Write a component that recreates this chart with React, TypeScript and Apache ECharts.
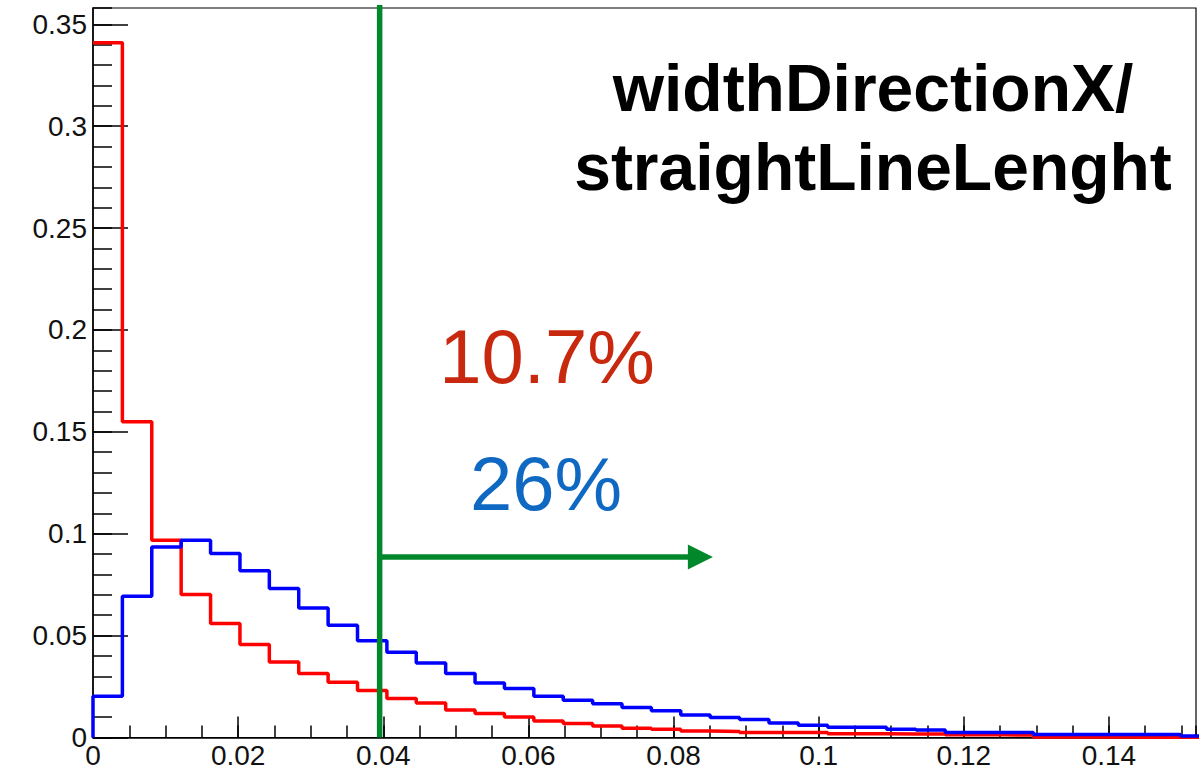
import React, { useEffect, useRef } from 'react';
import * as echarts from 'echarts';

// Histogram definition
const BIN_WIDTH = 0.00405;
const redValues = [
  0.341, 0.155, 0.0968, 0.0702, 0.0559, 0.0456, 0.0371, 0.0314, 0.0271, 0.0231,
  0.0192, 0.0169, 0.0135, 0.0118, 0.0100, 0.0081, 0.0069, 0.0057, 0.0045, 0.0041,
  0.0032, 0.0030, 0.0025, 0.0025, 0.0024, 0.0018, 0.0018, 0.0017, 0.0017, 0.0013,
  0.0013, 0.0012, 0.0003, 0.0002, 0.0002, 0.0001, 0.0001, 0.0001,
];
const blueValues = [
  0.0203, 0.0693, 0.0935, 0.0968, 0.0903, 0.0818, 0.0731, 0.0636, 0.0551, 0.0475,
  0.0418, 0.0365, 0.0314, 0.0268, 0.0240, 0.0203, 0.0183, 0.0166, 0.0147, 0.0131,
  0.0110, 0.0098, 0.0088, 0.0071, 0.0060, 0.0050, 0.0050, 0.0041, 0.0037, 0.0024,
  0.0024, 0.0024, 0.0015, 0.0015, 0.0015, 0.0015, 0.0015, 0.0007,
];
const cutValue = 0.0395;
const cutTop = 0.3595;
const arrowY = 0.0886;
const arrowLineEnd = 0.082;
const arrowHeadX = 0.0837;
const redPercent = '10.7%';
const bluePercent = '26%';
const titleLines = ['widthDirectionX/', 'straightLineLenght'];

const X_MIN = 0;
const X_MAX = 0.152;
const Y_MIN = 0;
const Y_MAX = 0.358;

function histSteps(values: number[], fromZero: boolean) {
  const pts: number[][] = [];
  if (fromZero) pts.push([0, 0]);
  values.forEach((v, i) => pts.push([i * BIN_WIDTH, v]));
  pts.push([values.length * BIN_WIDTH, 0]);
  return pts;
}

const fmt = (v: number) => String(parseFloat(v.toFixed(4)));
const FONT = 'Liberation Sans, Arial, Helvetica, sans-serif';

export default function App() {
  const ref = useRef<HTMLDivElement>(null);
  useEffect(() => {
    document.body.style.margin = '0';
    if (!ref.current) return;
    const chart = echarts.init(ref.current, undefined, { renderer: 'svg' });
    const axisLineStyle = { color: '#000', width: 1.5 };
    chart.setOption({
      animation: false,
      backgroundColor: '#fff',
      grid: {
        left: 93,
        top: 8,
        right: 8,
        bottom: 35.5,
        show: true,
        borderColor: '#000',
        borderWidth: 1.2,
        containLabel: false,
      },
      xAxis: [
        {
          type: 'value', position: 'bottom', min: X_MIN, max: X_MAX, interval: 0.005,
          axisLine: { show: true, onZero: false, lineStyle: axisLineStyle },
          axisTick: { show: true, inside: true, length: 12, lineStyle: axisLineStyle },
          axisLabel: { show: false },
          splitLine: { show: false },
        },
        {
          type: 'value', position: 'bottom', min: X_MIN, max: X_MAX, interval: 0.02,
          axisLine: { show: false, onZero: false },
          axisTick: { show: true, inside: true, length: 21, lineStyle: axisLineStyle },
          axisLabel: {
            show: true, showMaxLabel: false, margin: 4, fontSize: 28, fontFamily: FONT,
            color: '#111', formatter: fmt,
          },
          splitLine: { show: false },
        },
      ],
      yAxis: [
        {
          type: 'value', position: 'left', min: Y_MIN, max: Y_MAX, interval: 0.01,
          axisLine: { show: true, onZero: false, lineStyle: axisLineStyle },
          axisTick: { show: true, inside: true, length: 19, lineStyle: axisLineStyle },
          axisLabel: { show: false },
          splitLine: { show: false },
        },
        {
          type: 'value', position: 'left', min: Y_MIN, max: Y_MAX, interval: 0.05,
          axisLine: { show: false, onZero: false },
          axisTick: { show: true, inside: true, length: 35, lineStyle: axisLineStyle },
          axisLabel: {
            show: true, showMaxLabel: false, margin: 6, fontSize: 28, fontFamily: FONT,
            color: '#111', formatter: fmt,
          },
          splitLine: { show: false },
        },
      ],
      series: [
        {
          name: 'red', type: 'line', step: 'end', xAxisIndex: 0, yAxisIndex: 0,
          data: histSteps(redValues, false), showSymbol: false, symbol: 'none',
          lineStyle: { color: '#ff0000', width: 3.5 }, z: 3,
        },
        {
          name: 'blue', type: 'line', step: 'end', xAxisIndex: 0, yAxisIndex: 0,
          data: histSteps(blueValues, true), showSymbol: false, symbol: 'none',
          lineStyle: { color: '#0000ff', width: 3.5 }, z: 4,
        },
        {
          name: 'cut', type: 'line', xAxisIndex: 0, yAxisIndex: 0, clip: false,
          data: [[cutValue, 0], [cutValue, cutTop]], showSymbol: false, symbol: 'none',
          lineStyle: { color: '#00882b', width: 5.5 }, z: 5,
        },
        {
          name: 'arrow', type: 'line', xAxisIndex: 0, yAxisIndex: 0,
          data: [[cutValue, arrowY], [arrowLineEnd, arrowY]], showSymbol: false, symbol: 'none',
          lineStyle: { color: '#00882b', width: 5.5 }, z: 5,
        },
        {
          name: 'arrowHead', type: 'scatter', xAxisIndex: 0, yAxisIndex: 0,
          data: [[arrowHeadX, arrowY]], symbol: 'triangle', symbolRotate: -90,
          symbolSize: [25, 25], itemStyle: { color: '#00882b', opacity: 1 }, z: 5,
        },
      ],
      graphic: [
        {
          type: 'text', x: 873, y: 88,
          style: {
            text: titleLines[0], fontSize: 66, fontWeight: 'bold', fontFamily: FONT,
            fill: '#000', align: 'center', verticalAlign: 'middle',
          },
        },
        {
          type: 'text', x: 873, y: 167,
          style: {
            text: titleLines[1], fontSize: 66, fontWeight: 'bold', fontFamily: FONT,
            fill: '#000', align: 'center', verticalAlign: 'middle',
          },
        },
        {
          type: 'text', x: 547, y: 356,
          style: {
            text: redPercent, fontSize: 76, fontFamily: FONT,
            fill: '#c8290e', align: 'center', verticalAlign: 'middle',
          },
        },
        {
          type: 'text', x: 546, y: 483.5,
          style: {
            text: bluePercent, fontSize: 76, fontFamily: FONT,
            fill: '#0f69c3', align: 'center', verticalAlign: 'middle',
          },
        },
      ],
    });
    return () => chart.dispose();
  }, []);
  return <div ref={ref} style={{ width: 1204, height: 773 }} />;
}
